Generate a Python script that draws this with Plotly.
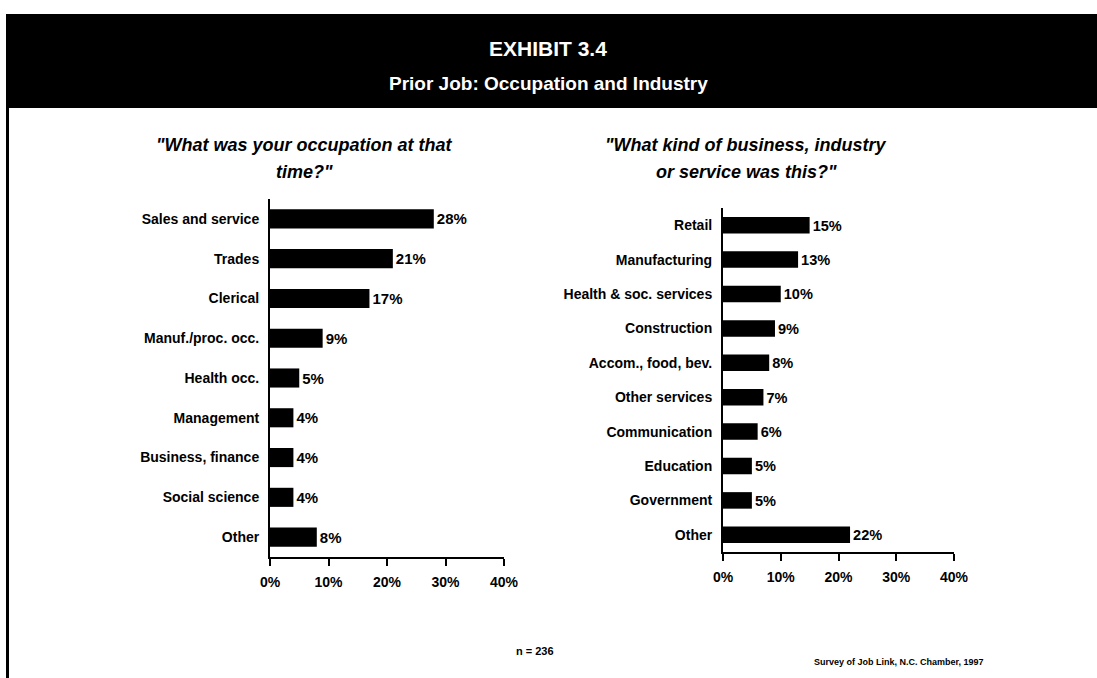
import plotly.graph_objects as go

# Occupation of prior job (percent of respondents)
occ_labels = ["Sales and service", "Trades", "Clerical", "Manuf./proc. occ.", "Health occ.",
              "Management", "Business, finance", "Social science", "Other"]
occ_values = [28, 21, 17, 9, 5, 4, 4, 4, 8]

# Industry of prior job (percent of respondents)
ind_labels = ["Retail", "Manufacturing", "Health & soc. services", "Construction",
              "Accom., food, bev.", "Other services", "Communication", "Education",
              "Government", "Other"]
ind_values = [15, 13, 10, 9, 8, 7, 6, 5, 5, 22]

x_ticks = [0, 10, 20, 30, 40]
x_tick_text = ["0%", "10%", "20%", "30%", "40%"]

W, H = 1097, 678
FONT = "Liberation Sans, Arial, sans-serif"
BOLD_FONT = dict(family=FONT, size=14, color="black", weight="bold")


def px_x(v):
    return v / W


def px_y(v):
    return 1 - v / H


fig = go.Figure()

for vals, labs, xa, ya in [(occ_values, occ_labels, "x", "y"),
                           (ind_values, ind_labels, "x2", "y2")]:
    fig.add_trace(go.Bar(
        x=vals, y=labs, orientation="h",
        marker=dict(color="black", line=dict(width=0)),
        text=[f"{v}%" for v in vals], textposition="outside",
        textfont=dict(family=FONT, size=15, color="black", weight="bold"),
        cliponaxis=False, xaxis=xa, yaxis=ya, hoverinfo="skip",
    ))

xaxis_style = dict(
    range=[0, 40], tickmode="array", tickvals=x_ticks, ticktext=x_tick_text,
    showline=True, linecolor="black", linewidth=2,
    ticks="outside", ticklen=7, tickwidth=2, tickcolor="black",
    showgrid=False, zeroline=False, fixedrange=True, automargin=False,
    tickfont=BOLD_FONT, ticklabelstandoff=4,
)
yaxis_style = dict(
    autorange="reversed", showline=True, linecolor="black", linewidth=2,
    ticks="", showgrid=False, zeroline=False, fixedrange=True, automargin=False,
    tickfont=BOLD_FONT, ticklabelstandoff=6,
)

fig.update_layout(
    width=W, height=H,
    margin=dict(l=0, r=0, t=0, b=0, pad=0),
    paper_bgcolor="white", plot_bgcolor="white",
    showlegend=False, bargap=0.52,
    xaxis=dict(domain=[px_x(270), px_x(504)], anchor="y", **xaxis_style),
    yaxis=dict(domain=[px_y(557), px_y(199)], anchor="x", **yaxis_style),
    xaxis2=dict(domain=[px_x(723), px_x(954)], anchor="y2", **xaxis_style),
    yaxis2=dict(domain=[px_y(552), px_y(208)], anchor="x2", **yaxis_style),
    shapes=[
        dict(type="rect", xref="paper", yref="paper",
             x0=px_x(6), x1=1, y0=px_y(108), y1=px_y(14),
             fillcolor="black", line=dict(width=0), layer="below"),
        dict(type="rect", xref="paper", yref="paper",
             x0=px_x(6), x1=px_x(9), y0=0, y1=px_y(108),
             fillcolor="black", line=dict(width=0), layer="below"),
    ],
)

ann = []


def text(x, y, s, size, color="black", bold=False, italic=False):
    if bold:
        s = f"<b>{s}</b>"
    if italic:
        s = f"<i>{s}</i>"
    ann.append(dict(x=px_x(x), y=px_y(y), xref="paper", yref="paper", text=s,
                    showarrow=False, xanchor="center", yanchor="middle",
                    font=dict(family=FONT, size=size, color=color)))


text(548, 48, "EXHIBIT 3.4", 21, color="white", bold=True)
text(548, 83, "Prior Job: Occupation and Industry", 19, color="white", bold=True)

text(305, 145, "\"What was your occupation at that", 18, bold=True, italic=True)
text(305, 172, "time?\"", 18, bold=True, italic=True)
text(746, 145, "\"What kind of business, industry", 18, bold=True, italic=True)
text(746, 172, "or service was this?\"", 18, bold=True, italic=True)

text(535, 651, "n = 236", 11, bold=True)
text(899, 662, "Survey of Job Link, N.C. Chamber, 1997", 9, bold=True)

fig.update_layout(annotations=ann)

fig.write_html("out.html")
